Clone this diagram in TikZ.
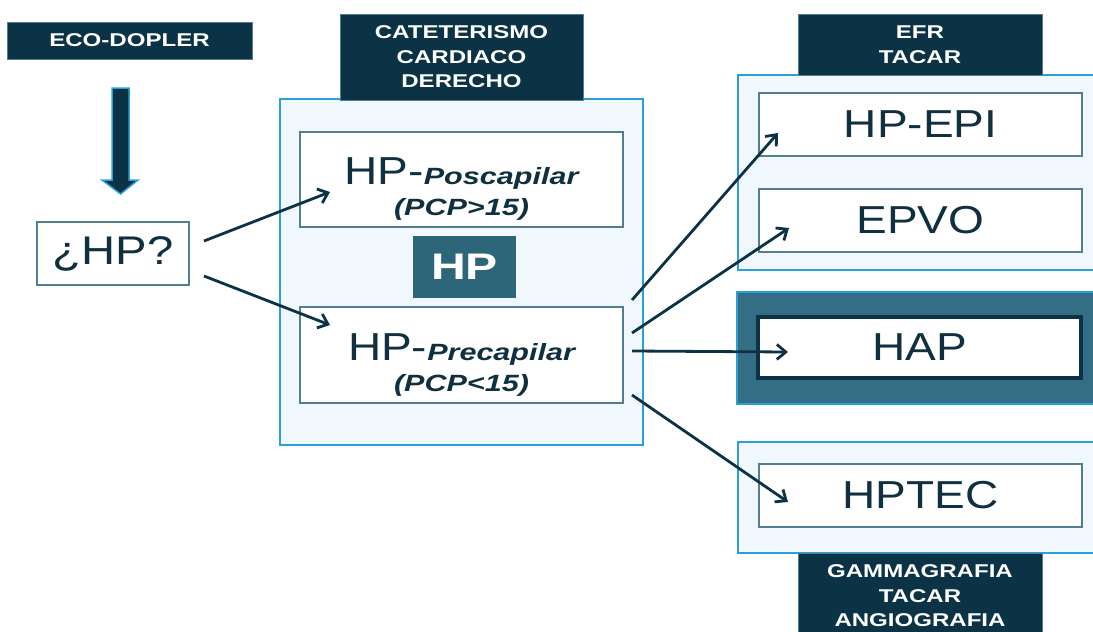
\documentclass[tikz,border=0pt]{standalone}
\usepackage{fontspec}
\setmainfont{Liberation Sans}[FakeStretch=1.18]
\newfontfamily\hdfont{Liberation Sans}[FakeStretch=1.3]
\usetikzlibrary{arrows.meta}
\definecolor{navy}{HTML}{0C3345}
\definecolor{ink}{HTML}{10303F}
\definecolor{skyline}{HTML}{2BA0D6}
\definecolor{paleblue}{HTML}{F1F8FD}
\definecolor{steel}{HTML}{527E91}
\definecolor{teal}{HTML}{2D6679}
\definecolor{hapfill}{HTML}{336E84}
\newcommand{\bitxt}[1]{{\hdfont\bfseries\itshape\fontsize{23.5}{28}\selectfont #1}}
\newcommand{\bigtxt}[1]{{\fontsize{39}{39}\selectfont #1}}
\tikzset{
  header/.style={fill=navy, draw=steel, line width=0.8pt, inner sep=0pt,
    text=white, align=center,
    font=\hdfont\bfseries\fontsize{18.5}{24.5}\selectfont},
  panel/.style={fill=paleblue, draw=skyline, line width=2pt, inner sep=0pt},
  item/.style={fill=white, draw=steel, line width=1.5pt, inner sep=0pt,
    text=ink, align=center, minimum width=323pt},
  link/.style={draw=navy, line width=2.8pt,
    -{Straight Barb[length=9pt,width=15pt,line width=2.8pt]}}
}
\begin{document}
\begin{tikzpicture}[x=1pt,y=-1pt]
\clip (0,0) rectangle (1093,632);
\fill[white] (0,0) rectangle (1093,632);

% left column
\node[header, minimum width=245pt, minimum height=37pt] (eco) at (129.5,40.5)
  {ECO-DOPLER};
\filldraw[fill=navy, draw=skyline, line width=1.5pt]
  (112,88) -- (129,88) -- (129,180) -- (138,180) -- (120.5,194)
  -- (102,180) -- (112,180) -- cycle;
\node[item, minimum width=152pt, minimum height=63pt,
  font=\fontsize{40}{40}\selectfont] (q) at (113,253.5) {¿HP?};

% middle column
\node[panel, minimum width=363pt, minimum height=346pt] (mid) at (461.5,272) {};
\node[header, minimum width=243pt, minimum height=86pt] (cat) at (461.5,57)
  {CATETERISMO\\CARDIACO\\DERECHO};
\node[item, minimum height=95pt] (pos) at (461.5,179.5)
  {\rule{0pt}{46pt}\bigtxt{HP-\bitxt{Poscapilar}}\\[8pt]\bitxt{(PCP>15)}};
\node[fill=teal, inner sep=0pt, minimum width=103pt, minimum height=62pt,
  text=white, font=\hdfont\bfseries\fontsize{37}{37}\selectfont] (hp)
  at (464.5,267) {HP};
\node[item, minimum height=96pt] (pre) at (461.5,355)
  {\rule{0pt}{46pt}\bigtxt{HP-\bitxt{Precapilar}}\\[8pt]\bitxt{(PCP<15)}};

% right column
\node[panel, minimum width=362pt, minimum height=195pt] (diag) at (919,172.5) {};
\node[header, minimum width=244pt, minimum height=61pt] (efr) at (920,44.5)
  {EFR\\TACAR};
\node[item, minimum height=63pt] (epi) at (920.5,124.5) {\bigtxt{HP-EPI}};
\node[item, minimum height=63pt] (epvo) at (920.5,220.5) {\bigtxt{EPVO}};

\node[fill=hapfill, draw=skyline, line width=2.5pt, inner sep=0pt,
  minimum width=363pt, minimum height=112pt] (hapbox) at (918.5,348) {};
\node[item, draw=navy, line width=4pt, minimum height=61pt] (hap)
  at (919.5,347.5) {\bigtxt{HAP}};

\node[panel, minimum width=362pt, minimum height=111pt] (tecbox) at (919,497.5) {};
\node[item, minimum height=63pt] (tec) at (920.5,495.5) {\bigtxt{HPTEC}};
\node[header, minimum width=244pt, minimum height=86pt] (gam) at (920,596)
  {GAMMAGRAFIA\\TACAR\\ANGIOGRAFIA};

% connectors
\coordinate (qa) at (204,241);
\coordinate (qb) at (204,276);
\coordinate (pa) at (330,192);
\coordinate (pb) at (330,325);
\coordinate (r1) at (632,300);
\coordinate (r2) at (632,333);
\coordinate (r3) at (632,351);
\coordinate (r4) at (632,395);
\coordinate (t1) at (778,133);
\coordinate (t2) at (789,228);
\coordinate (t3) at (788,352);
\coordinate (t4) at (788,502);
\draw[link] (qa) -- (pa);
\draw[link] (qb) -- (pb);
\draw[link] (r1) -- (t1);
\draw[link] (r2) -- (t2);
\draw[link] (r3) -- (t3);
\draw[link] (r4) -- (t4);
\end{tikzpicture}
\end{document}
